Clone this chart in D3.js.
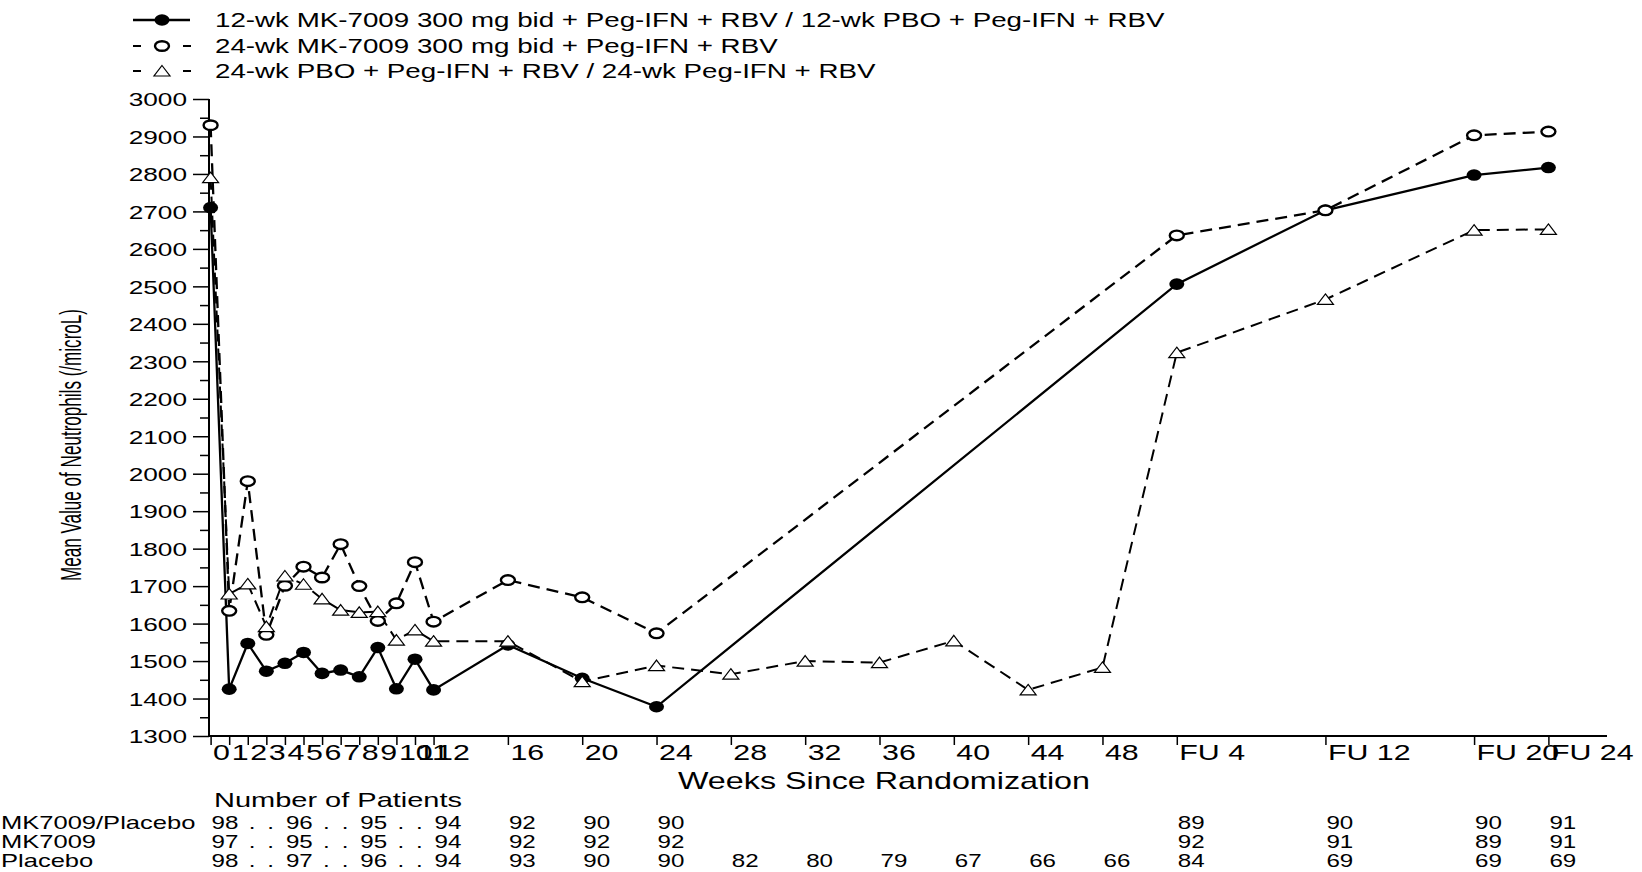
<!DOCTYPE html>
<html lang="en">
<head>
<meta charset="UTF-8">
<title>Mean Value of Neutrophils</title>
<script src="https://d3js.org/d3.v7.min.js"></script>
<style>
  body { margin: 0; background: #fff; }
  svg text { font-family: "Liberation Sans", Arial, sans-serif; fill: #000; }
</style>
</head>
<body>
<script>
// weeks since randomization; FU n is drawn at week 48 + n
let tickWeeks = [0,1,2,3,4,5,6,7,8,9,10,11,12,16,20,24,28,32,36,40,44,48,52,60,68,72];
let tickLabels = ["0","1","2","3","4","5","6","7","8","9","10","11","12","16","20","24","28","32","36","40","44","48","FU 4","FU 12","FU 20","FU 24"];
let yTickValues = [1300,1400,1500,1600,1700,1800,1900,2000,2100,2200,2300,2400,2500,2600,2700,2800,2900,3000];
let yMinorValues = [1350,1450,1550,1650,1750,1850,1950,2050,2150,2250,2350,2450,2550,2650,2750,2850,2950];

let mkWeeks = [0,1,2,3,4,5,6,7,8,9,10,11,12,16,20,24,52,60,68,72];
let mk12Values = [2710,1425,1547,1473,1494,1523,1467,1476,1458,1536,1426,1505,1423,1543,1454,1378,2506,2703,2797,2817];
let mk24Values = [2930,1634,1980,1570,1701,1752,1723,1812,1700,1607,1654,1764,1605,1716,1670,1574,2636,2703,2903,2913];
let pboWeeks = [0,1,2,3,4,5,6,7,8,9,10,11,12,16,20,24,28,32,36,40,44,48,52,60,68,72];
let pboValues = [2790,1679,1706,1592,1727,1705,1666,1636,1630,1632,1556,1583,1553,1553,1445,1488,1465,1500,1496,1554,1423,1483,2323,2465,2650,2652];

let legendLabels = [
  "12-wk MK-7009 300 mg bid + Peg-IFN + RBV / 12-wk PBO + Peg-IFN + RBV",
  "24-wk MK-7009 300 mg bid + Peg-IFN + RBV",
  "24-wk PBO + Peg-IFN + RBV / 24-wk Peg-IFN + RBV"
];

let patientWeeks = [0,2,3,4,6,7,8,10,11,12,16,20,24,28,32,36,40,44,48,52,60,68,72];
let rowNames = ["MK7009/Placebo","MK7009","Placebo"];
let nMK7009Placebo = ["98",".",".","96",".",".","95",".",".","94","92","90","90","","","","","","","89","90","90","91"];
let nMK7009 = ["97",".",".","95",".",".","95",".",".","94","92","92","92","","","","","","","92","91","89","91"];
let nPlacebo = ["98",".",".","97",".",".","96",".",".","94","93","90","90","82","80","79","67","66","66","84","69","69","69"];

// the original picture is stretched sideways; all text gets the same stretch
var S = 1.38;
var width = 1642, height = 872;

var svg = d3.select("body").append("svg")
  .attr("width", width)
  .attr("height", height);

var x = d3.scaleLinear().domain([0, 72]).range([210.6, 1548.4]);
var y = d3.scaleLinear().domain([1300, 3000]).range([736, 99]);

function stretched(sel, tx, ty) {
  return sel.attr("transform", "translate(" + tx + "," + ty + ") scale(" + S + ",1)");
}

// y axis
var yAxis = svg.append("g")
  .attr("transform", "translate(209,0)")
  .call(d3.axisLeft(y).tickValues(yTickValues).tickSize(16).tickSizeOuter(0).tickFormat(d3.format("d")));
yAxis.select(".domain").remove();
yAxis.selectAll("line").attr("stroke", "#000").attr("stroke-width", 1.5);
yAxis.selectAll("text").each(function() {
  var t = d3.select(this);
  t.attr("x", null).attr("dy", null)
   .attr("text-anchor", "end")
   .style("font-size", "19px")
   .attr("font-family", null);
  stretched(t, -22, 6.8);
});

var yMinor = svg.append("g")
  .attr("transform", "translate(209,0)")
  .call(d3.axisLeft(y).tickValues(yMinorValues).tickSize(9).tickSizeOuter(0).tickFormat(""));
yMinor.select(".domain").remove();
yMinor.selectAll("line").attr("stroke", "#000").attr("stroke-width", 1.5);

// x axis
var xAxis = svg.append("g")
  .attr("transform", "translate(0,736)")
  .call(d3.axisBottom(x).tickValues(tickWeeks).tickSize(9).tickSizeOuter(0)
    .tickFormat(function(d, i) { return tickLabels[i]; }));
xAxis.select(".domain").remove();
xAxis.selectAll("line").attr("stroke", "#000").attr("stroke-width", 1.5);
xAxis.selectAll("text").each(function() {
  var t = d3.select(this);
  t.attr("y", null).attr("dy", null)
   .attr("text-anchor", "start")
   .style("font-size", "22px")
   .attr("font-family", null);
  stretched(t, 2, 24);
});

svg.append("line").attr("x1", 209).attr("y1", 99).attr("x2", 209).attr("y2", 737)
  .attr("stroke", "#000").attr("stroke-width", 2);
svg.append("line").attr("x1", 208).attr("y1", 736).attr("x2", 1607).attr("y2", 736)
  .attr("stroke", "#000").attr("stroke-width", 2);

// axis titles
stretched(svg.append("text").text("Weeks Since Randomization")
  .attr("text-anchor", "middle").style("font-size", "23.4px"), 884, 789);

svg.append("text").text("Mean Value of Neutrophils (/microL)")
  .attr("text-anchor", "middle").style("font-size", "21px")
  .attr("textLength", 272).attr("lengthAdjust", "spacingAndGlyphs")
  .attr("transform", "translate(81,445) scale(" + S + ",1) rotate(-90)");

// series
var line = d3.line().x(function(d) { return x(d.w); }).y(function(d) { return y(d.v); });
var mk12 = mkWeeks.map(function(w, i) { return {w: w, v: mk12Values[i]}; });
var mk24 = mkWeeks.map(function(w, i) { return {w: w, v: mk24Values[i]}; });
var pbo = pboWeeks.map(function(w, i) { return {w: w, v: pboValues[i]}; });

svg.append("path").datum(pbo).attr("d", line)
  .attr("fill", "none").attr("stroke", "#000").attr("stroke-width", 2)
  .attr("stroke-dasharray", "12,7");
svg.append("path").datum(mk24).attr("d", line)
  .attr("fill", "none").attr("stroke", "#000").attr("stroke-width", 2.3)
  .attr("stroke-dasharray", "12,7");
svg.append("path").datum(mk12).attr("d", line)
  .attr("fill", "none").attr("stroke", "#000").attr("stroke-width", 2.3);

var triPath = "M0,-5.5 L8,5 L-8,5 Z";

svg.append("g").selectAll("ellipse").data(mk12).enter().append("ellipse")
  .attr("cx", function(d) { return x(d.w); })
  .attr("cy", function(d) { return y(d.v); })
  .attr("rx", 7.5).attr("ry", 5.8).attr("fill", "#000");

svg.append("g").selectAll("ellipse").data(mk24).enter().append("ellipse")
  .attr("cx", function(d) { return x(d.w); })
  .attr("cy", function(d) { return y(d.v); })
  .attr("rx", 7).attr("ry", 4.8).attr("fill", "#fff")
  .attr("stroke", "#000").attr("stroke-width", 2.4);

svg.append("g").selectAll("path").data(pbo).enter().append("path")
  .attr("d", triPath)
  .attr("transform", function(d) { return "translate(" + x(d.w) + "," + y(d.v) + ")"; })
  .attr("fill", "#fff").attr("stroke", "#000").attr("stroke-width", 1.2);

// legend
var legendY = [20, 46, 71];
svg.append("line").attr("x1", 133).attr("x2", 190).attr("y1", legendY[0]).attr("y2", legendY[0])
  .attr("stroke", "#000").attr("stroke-width", 2.3);
svg.append("ellipse").attr("cx", 162).attr("cy", legendY[0]).attr("rx", 7.5).attr("ry", 5.8).attr("fill", "#000");
[1, 2].forEach(function(i) {
  svg.append("line").attr("x1", 133).attr("x2", 191).attr("y1", legendY[i]).attr("y2", legendY[i])
    .attr("stroke", "#000").attr("stroke-width", 2).attr("stroke-dasharray", "8,42");
});
svg.append("ellipse").attr("cx", 162).attr("cy", legendY[1]).attr("rx", 7).attr("ry", 4.8)
  .attr("fill", "#fff").attr("stroke", "#000").attr("stroke-width", 2.4);
svg.append("path").attr("d", triPath).attr("transform", "translate(162," + legendY[2] + ")")
  .attr("fill", "#fff").attr("stroke", "#000").attr("stroke-width", 1.2);
legendLabels.forEach(function(lab, i) {
  stretched(svg.append("text").text(lab).style("font-size", "20.1px"), 215, legendY[i] + 7);
});

// number of patients table
stretched(svg.append("text").text("Number of Patients")
  .attr("text-anchor", "middle").style("font-size", "21px"), 338, 807);

var rows = [nMK7009Placebo, nMK7009, nPlacebo];
var rowY = [829, 848, 867];
rows.forEach(function(vals, r) {
  stretched(svg.append("text").text(rowNames[r]).style("font-size", "18.5px"), 1, rowY[r]);
  patientWeeks.forEach(function(w, i) {
    if (vals[i] === "") return;
    stretched(svg.append("text").text(vals[i]).style("font-size", "17.5px"), x(w) + 1, rowY[r]);
  });
});
</script>
</body>
</html>
